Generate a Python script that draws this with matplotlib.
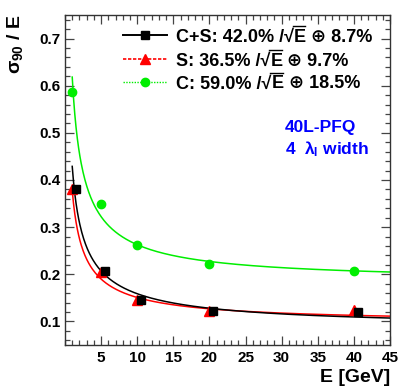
import numpy as np
import matplotlib
matplotlib.use("Agg")
import matplotlib.pyplot as plt
from matplotlib.lines import Line2D
from matplotlib.ticker import MultipleLocator

plt.rcParams['font.family'] = ['Liberation Sans', 'DejaVu Sans']
plt.rcParams['font.weight'] = 'bold'
plt.rcParams['mathtext.fontset'] = 'custom'
plt.rcParams['mathtext.rm'] = 'Liberation Sans:bold'
plt.rcParams['mathtext.it'] = 'Liberation Sans:bold'
plt.rcParams['mathtext.bf'] = 'Liberation Sans:bold'
plt.rcParams['mathtext.sf'] = 'Liberation Sans:bold'
plt.rcParams['mathtext.fallback'] = 'stixsans'

# data
energy = [1, 5, 10, 20, 40]
cs_res = [0.381, 0.208, 0.145, 0.123, 0.121]
s_res = [0.380, 0.205, 0.145, 0.122, 0.124]
c_res = [0.587, 0.350, 0.263, 0.222, 0.208]
cs_shift = 0.5
# fit parameters (stochastic, constant)
cs_fit = (0.420, 0.087)
s_fit = (0.365, 0.097)
c_fit = (0.590, 0.185)
label_heads = ["C+S: 42.0% /√", "S: 36.5% /√", "C: 59.0% /√"]
label_tails = [" ⊕ 8.7%", " ⊕ 9.7%", " ⊕ 18.5%"]
xticks = [5, 10, 15, 20, 25, 30, 35, 40, 45]
yticks = [0.1, 0.2, 0.3, 0.4, 0.5, 0.6, 0.7]

W, H = 407, 392
fig = plt.figure(figsize=(W / 100, H / 100), dpi=100)
ax = fig.add_axes([65 / W, 1 - 345 / H, 325 / W, 330 / H])
ax.set_xlim(0, 45)
ax.set_ylim(0.05, 0.75)

GREEN = '#00ee00'
RED = '#ff0000'

def res(e, p):
    a, b = p
    return np.sqrt((a / np.sqrt(e)) ** 2 + b ** 2)

e = np.linspace(1, 45, 500)
ax.plot(e, res(e, c_fit), color=GREEN, lw=1.1, zorder=2)
ax.plot(e, res(e, s_fit), color=RED, lw=1.1, zorder=2)
ax.plot(e, res(e, cs_fit), color='black', lw=1.1, zorder=3)

ax.plot(energy, c_res, 'o', color=GREEN, ms=6, zorder=4)
ax.plot(energy, s_res, '^', color=RED, ms=6.5, zorder=4)
ax.plot(np.array(energy) + cs_shift, cs_res, 's', color='black', ms=6, zorder=5)

ax.set_xticks(xticks)
ax.set_yticks(yticks)
ax.set_xticklabels([str(t) for t in xticks])
ax.set_yticklabels([f"{t:.1f}" for t in yticks])
ax.xaxis.set_minor_locator(MultipleLocator(1))
ax.yaxis.set_minor_locator(MultipleLocator(0.02))
ax.tick_params(which='both', direction='in', top=True, right=True,
               labelsize=11, color='#444444', width=0.9)
ax.tick_params(which='major', length=6.5)
ax.tick_params(which='minor', length=3.6)
ax.tick_params(axis='x', pad=4)
ax.tick_params(axis='y', pad=3)
for sp in ax.spines.values():
    sp.set_color('#333333')
    sp.set_linewidth(1.0)

# manual legend (figure pixel coords)
styles = [
    dict(color='black', lw=1.4, ls='-', marker='s', ms=6),
    dict(color=RED, lw=1.2, ls=(0, (2, 1)), marker='^', ms=6.5),
    dict(color=GREEN, lw=1.0, ls=(0, (1, 1)), marker='o', ms=6),
]
rows_y = [35, 59, 82]
fig.canvas.draw()
renderer = fig.canvas.get_renderer()
for st, head, tail, yy in zip(styles, label_heads, label_tails, rows_y):
    yf = 1 - yy / H
    fig.add_artist(Line2D([123 / W, 167 / W], [yf, yf], transform=fig.transFigure,
                          color=st['color'], lw=st['lw'], ls=st['ls']))
    fig.add_artist(Line2D([145 / W], [yf], transform=fig.transFigure,
                          color=st['color'], marker=st['marker'], ms=st['ms'], ls='none'))
    yb = 1 - (yy + 6.5) / H
    t1 = fig.text(176 / W, yb, head, fontsize=13, fontweight='bold', va='baseline', ha='left')
    bb1 = t1.get_window_extent(renderer)
    t2 = fig.text(bb1.x1 / W, yb, "E", fontsize=13, fontweight='bold', va='baseline', ha='left')
    bb2 = t2.get_window_extent(renderer)
    t3 = fig.text(bb2.x1 / W, yb, tail, fontsize=13, fontweight='bold', va='baseline', ha='left')
    top = (H - (yy + 6.5)) + 15.5
    fig.add_artist(Line2D([(bb1.x1 - 1) / W, (bb2.x1 - 1) / W], [top / H, top / H],
                          transform=fig.transFigure, color='black', lw=1.0))

fig.text(285 / W, 1 - 128 / H, "40L-PFQ",
         color='#0000ff', fontsize=12.5, fontweight='bold', va='center', ha='left')
fig.text(285 / W, 1 - 149 / H, r"4  $\lambda_\mathrm{I}$ width",
         color='#0000ff', fontsize=12.5, fontweight='bold', va='center', ha='left')

fig.text(15 / W, 1 - 15 / H, r"$\sigma_{90}$ / E", rotation=90, ha='center', va='top',
         fontsize=14, fontweight='bold')
fig.text(390 / W, 1 - 378 / H, "E [GeV]", ha='right', va='center',
         fontsize=14, fontweight='bold')

fig.savefig("out.png", dpi=100)
